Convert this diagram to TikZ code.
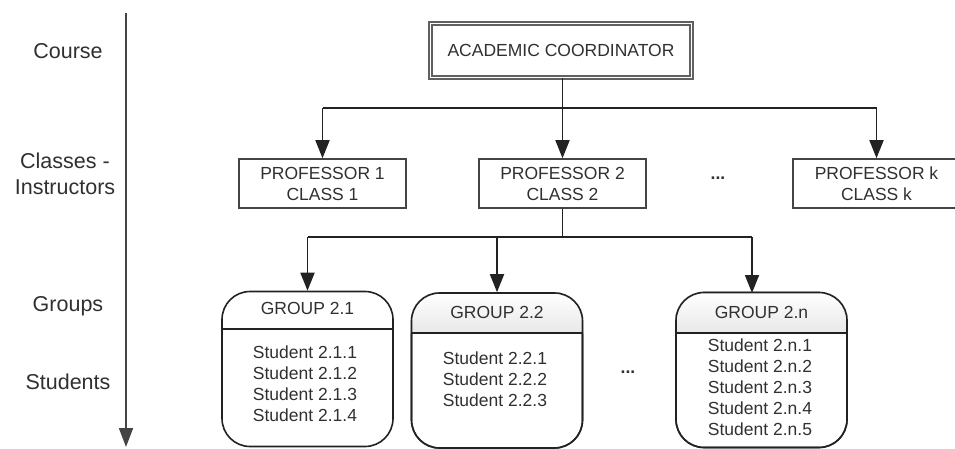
\documentclass[tikz,border=0pt]{standalone}
\usepackage{fontspec}
\setmainfont{Liberation Sans}
\usetikzlibrary{arrows.meta,positioning}
\definecolor{txt}{HTML}{303030}
\definecolor{ln}{HTML}{222222}
\definecolor{bx}{HTML}{444444}
\tikzset{
  axislbl/.style={font=\fontsize{21.5}{26}\selectfont, text=txt, align=center, inner sep=0pt},
  btxt/.style={font=\fontsize{17.5}{21}\selectfont, text=txt, align=center, inner sep=0pt},
  profbox/.style={draw=bx, line width=1.6pt, minimum width=167pt, minimum height=49pt, inner sep=0pt, align=center, font=\fontsize{17.5}{21}\selectfont, text=txt},
  coordbox/.style={draw=bx!85!white, line width=1.5pt, double=white, double distance=1.4pt, minimum width=261pt, minimum height=54pt, inner sep=0pt, font=\fontsize{17.5}{21}\selectfont, text=txt},
  grpbox/.style={draw=ln, line width=1.6pt, rounded corners=28pt, minimum width=171pt, minimum height=155pt, inner sep=0pt},
  conn/.style={draw=ln, line width=1.8pt},
  arr/.style={conn, -{Triangle[length=18pt,width=14pt]}},
}
\begin{document}
\begin{tikzpicture}[x=1pt,y=-1pt]
\useasboundingbox (0,0) rectangle (955,448);
% left axis
\coordinate (axtop) at (126,13);
\coordinate (axbot) at (126,447);
\draw[draw=bx, line width=1.8pt, -{Triangle[length=19pt,width=14pt]}] (axtop) -- (axbot);
\node[axislbl] (lcourse) at (68,51) {Course};
\node[axislbl] (lclasses) at (65,174) {Classes -\\Instructors};
\node[axislbl] (lgroups) at (68,306) {Groups};
\node[axislbl] (lstudents) at (68,382) {Students};

% top box
\node[coordbox] (ac) at (561,50.5) {ACADEMIC COORDINATOR};

% professors
\node[profbox] (p1) at (322.5,183.5) {PROFESSOR 1\\CLASS 1};
\node[profbox] (p2) at (562.5,183.5) {PROFESSOR 2\\CLASS 2};
\node[profbox] (pk) at (876.5,183.5) {PROFESSOR k\\CLASS k};
\node[btxt] (pdots) at (718,178) {\textbf{...}};

\coordinate (j1) at (562.5,108);
\draw[conn] (ac.south -| j1) -- (j1);
\draw[conn] (p1.north |- j1) -- (pk.north |- j1);
\draw[arr] (p1.north |- j1) -- (p1.north);
\draw[arr] (p2.north |- j1) -- (p2.north);
\draw[arr] (pk.north |- j1) -- (pk.north);

% groups
\node[grpbox] (g1) at (307.5,369) {};
\node[grpbox] (g2) at (497,370.5) {};
\node[grpbox] (gn) at (761.5,370) {};

% header shading for g2 and gn
\begin{scope}
\clip[rounded corners=28pt] (g2.south west) rectangle (g2.north east);
\shade[top color=white, bottom color=gray!18] (g2.north west) rectangle (g2.east |- 0,333);
\end{scope}
\begin{scope}
\clip[rounded corners=28pt] (gn.south west) rectangle (gn.north east);
\shade[top color=white, bottom color=gray!18] (gn.north west) rectangle (gn.east |- 0,333);
\end{scope}
\node[grpbox] at (g2) {};
\node[grpbox] at (gn) {};

\draw[conn, line width=1.6pt] (g1.west |- 0,329) -- (g1.east |- 0,329);
\draw[conn, line width=1.6pt] (g2.west |- 0,333) -- (g2.east |- 0,333);
\draw[conn, line width=1.6pt] (gn.west |- 0,333) -- (gn.east |- 0,333);

\node[btxt] (g1h) at (307.5,308) {GROUP 2.1};
\node[btxt] (g2h) at (497,312) {GROUP 2.2};
\node[btxt] (gnh) at (761.5,312) {GROUP 2.n};

\node[btxt] (g1s) at (305,384) {Student 2.1.1\\Student 2.1.2\\Student 2.1.3\\Student 2.1.4};
\node[btxt] (g2s) at (495,379) {Student 2.2.1\\Student 2.2.2\\Student 2.2.3};
\node[btxt] (gns) at (760,387) {Student 2.n.1\\Student 2.n.2\\Student 2.n.3\\Student 2.n.4\\Student 2.n.5};
\node[btxt] (gdots) at (628,372) {\textbf{...}};

\coordinate (j2) at (562.5,237);
\coordinate (tn) at (752,293);
\draw[conn] (p2.south) -- (j2);
\draw[conn] (g1.north |- j2) -- (tn |- j2);
\draw[arr] (g1.north |- j2) -- (g1.north);
\draw[arr] (g2.north |- j2) -- (g2.north);
\draw[arr] (tn |- j2) -- (tn);
\end{tikzpicture}
\end{document}
